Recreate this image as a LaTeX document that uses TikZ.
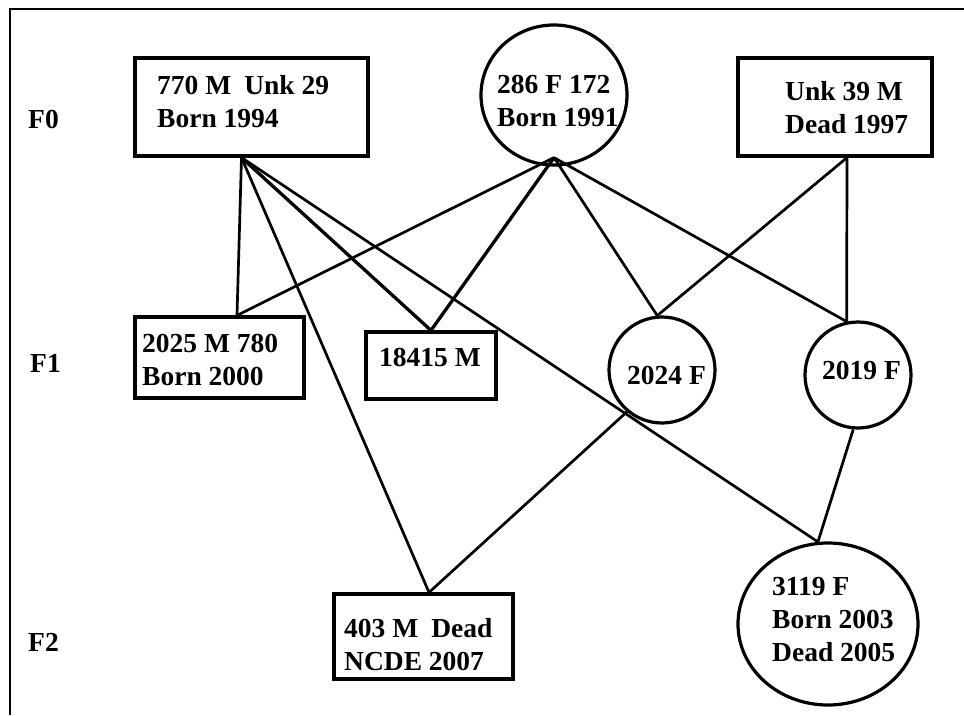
\documentclass[tikz,border=0pt]{standalone}
\usepackage{fontspec}
\setmainfont{Liberation Serif}
\usetikzlibrary{shapes.geometric}
\begin{document}
\begin{tikzpicture}[x=1pt,y=-1pt,
  box/.style={draw,line width=3.2pt,rectangle,inner sep=0pt},
  ring/.style={draw,line width=3.2pt,ellipse,inner sep=0pt},
  txt/.style={anchor=base west,inner sep=0pt,font=\fontsize{27.5}{33}\bfseries\selectfont},
  link/.style={line width=2.7pt},
  thick link/.style={line width=3.3pt}]
\useasboundingbox (0,0) rectangle (964,715);
\draw[line width=2pt] (10,715) -- (10,9) -- (964,9);
% generation labels
\node[txt] (g0) at (28,128) {F0};
\node[txt] (g1) at (30,372) {F1};
\node[txt] (g2) at (28,651) {F2};
% shapes
\node[box,minimum width=233pt,minimum height=98pt] (A) at (251.5,107) {};
\node[ring,minimum width=146pt,minimum height=140pt] (B) at (554,95) {};
\node[box,minimum width=194pt,minimum height=98pt] (C) at (835,107) {};
\node[box,minimum width=169pt,minimum height=81pt] (D) at (219.5,357.5) {};
\node[box,minimum width=130pt,minimum height=67pt] (E) at (431,365.5) {};
\node[ring,minimum width=106pt,minimum height=106pt] (F) at (662,370) {};
\node[ring,minimum width=106pt,minimum height=106pt] (G) at (858,375) {};
\node[box,minimum width=179pt,minimum height=85pt] (H) at (423.5,636.5) {};
\node[ring,minimum width=180pt,minimum height=162pt] (I) at (828,624) {};
% texts
\renewcommand\arraystretch{1}
\node[txt] (At) at (157,94) {\begin{tabular}[t]{@{}l@{}}770 M\hspace{13pt}Unk 29\\Born 1994\end{tabular}};
\node[txt] (Bt) at (497,93) {\begin{tabular}[t]{@{}l@{}}286 F 172\\Born 1991\end{tabular}};
\node[txt] (Ct) at (785,100) {\begin{tabular}[t]{@{}l@{}}Unk 39 M\\Dead 1997\end{tabular}};
\node[txt] (Dt) at (142,352) {\begin{tabular}[t]{@{}l@{}}2025 M 780\\Born 2000\end{tabular}};
\node[txt] (Et) at (379,366) {18415 M};
\node[txt] (Ft) at (627,384) {2024 F};
\node[txt] (Gt) at (822,379) {2019 F};
\node[txt] (Ht) at (344,637) {\begin{tabular}[t]{@{}l@{}}403 M\hspace{13pt}Dead\\NCDE 2007\end{tabular}};
\node[txt] (It) at (772,595) {\begin{tabular}[t]{@{}l@{}}3119 F\\Born 2003\\Dead 2005\end{tabular}};
% connection points
\coordinate (Ab) at ([xshift=-10pt]A.south);
\coordinate (Bb) at ([yshift=9pt]B.south);
\coordinate (Cb) at ([xshift=12pt]C.south);
\coordinate (Dn) at ([xshift=17.5pt]D.north);
\coordinate (Hn) at ([xshift=5.5pt]H.north);
% connectors
\draw[link] (Ab) -- (Dn);
\draw[thick link] (Ab) -- (E.north);
\draw[link] (Ab) -- (Hn);
\draw[link] (Ab) -- (I.97);
\draw[link] (Bb) -- (Dn);
\draw[thick link] (Bb) -- (E.north);
\draw[link] (Bb) -- (F.95);
\draw[link] (Bb) -- (G.102);
\draw[link] (Cb) -- (F.95);
\draw[link] (Cb) -- (G.102);
\draw[link] (F.230) -- (Hn);
\draw[link] (G.265) -- (I.97);
\end{tikzpicture}
\end{document}
